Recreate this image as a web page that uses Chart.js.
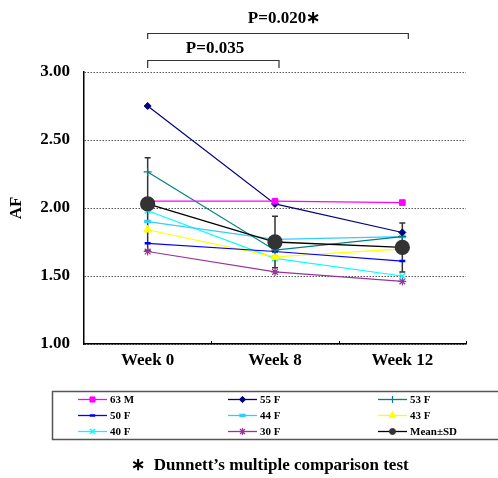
<!DOCTYPE html>
<html>
<head>
<meta charset="utf-8">
<script src="https://cdn.jsdelivr.net/npm/chart.js@4.4.0/dist/chart.umd.min.js"></script>
<style>
    html, body { margin: 0; padding: 0; background: #fff; overflow: hidden; }
    #wrap { width: 498px; height: 478px; }
</style>
</head>
<body>
<div id="wrap"><canvas id="chart"></canvas></div>
<script>
// Data
const weeks = ['Week 0', 'Week 8', 'Week 12'];
const subjects = ['63 M', '55 F', '53 F', '50 F', '44 F', '43 F', '40 F', '30 F'];
const af63M = [2.05, 2.05, 2.04];
const af55F = [2.75, 2.03, 1.82];
const af53F = [2.265, 1.69, 1.79];
const af50F = [1.74, 1.68, 1.61];
const af44F = [1.90, 1.77, 1.79];
const af43F = [1.84, 1.64, 1.70];
const af40F = [1.98, 1.63, 1.50];
const af30F = [1.68, 1.53, 1.46];
const meanVals = [2.03, 1.75, 1.71];
const sdVals = [0.34, 0.19, 0.18];
const yTicks = [1.0, 1.5, 2.0, 2.5, 3.0];
const pLabels = ['P=0.035', 'P=0.020\u2217'];
const footnote = '\u2217  Dunnett\u2019s multiple comparison test';

const SERIF = '"Liberation Serif", "Times New Roman", serif';

// Subject styles
const COLORS = ['#FF00FF', '#000080', '#008080', '#0000FF', '#33CCFF', '#FFFF00', '#00FFFF', '#993399'];
const STYLES = ['rect', 'rectRot', 'cross', 'line', 'line', 'triangle', 'crossRot', 'star'];
const RADII = [4, 3.5, 4, 3, 3.5, 4.5, 4, 4];
const MARKER_W = [1, 1, 1.2, 2.5, 3.5, 1, 1.5, 1.2];

const series = [af63M, af55F, af53F, af50F, af44F, af43F, af40F, af30F];

const datasets = series.map((data, i) => ({
    label: subjects[i],
    data: data,
    borderColor: COLORS[i],
    backgroundColor: COLORS[i],
    borderWidth: 1.2,
    pointStyle: STYLES[i],
    pointRadius: RADII[i],
    pointBorderWidth: MARKER_W[i],
    pointBackgroundColor: COLORS[i],
    pointBorderColor: COLORS[i],
    order: 1
}));

datasets.push({
    label: 'Mean\u00B1SD',
    data: meanVals,
    borderColor: '#000000',
    backgroundColor: '#333333',
    borderWidth: 1.3,
    pointStyle: 'circle',
    pointRadius: 7,
    pointBackgroundColor: '#333333',
    pointBorderColor: '#333333',
    order: 0
});

// Error bars, brackets, x ticks, legend and footnote
const extras = {
    id: 'extras',
    beforeDatasetsDraw(chart) {
        const { ctx, scales: { x, y } } = chart;
        ctx.save();
        ctx.strokeStyle = '#333333';
        ctx.lineWidth = 1.5;
        meanVals.forEach((m, i) => {
            const px = x.getPixelForValue(i);
            const top = y.getPixelForValue(m + sdVals[i]);
            const bot = y.getPixelForValue(m - sdVals[i]);
            ctx.beginPath();
            ctx.moveTo(px, top); ctx.lineTo(px, bot);
            ctx.moveTo(px - 3, top); ctx.lineTo(px + 3, top);
            ctx.moveTo(px - 3, bot); ctx.lineTo(px + 3, bot);
            ctx.stroke();
        });
        ctx.restore();
    },
    afterDraw(chart) {
        const { ctx, chartArea, scales: { x } } = chart;
        ctx.save();

        // small inward ticks on the x axis between categories
        ctx.strokeStyle = '#000';
        ctx.lineWidth = 1;
        const step = x.getPixelForValue(1) - x.getPixelForValue(0);
        for (let i = 0; i < weeks.length; i++) {
            const bx = Math.round(x.getPixelForValue(i) + step / 2) + 0.5;
            ctx.beginPath();
            ctx.moveTo(bx, chartArea.bottom);
            ctx.lineTo(bx, chartArea.bottom - 3);
            ctx.stroke();
        }

        // comparison brackets
        const x0 = x.getPixelForValue(0);
        const x8 = x.getPixelForValue(1) + 4;
        const x12 = x.getPixelForValue(2) + 6;
        ctx.strokeStyle = '#333';
        ctx.lineWidth = 1.2;
        ctx.beginPath();
        ctx.moveTo(x0, 68); ctx.lineTo(x0, 60.5); ctx.lineTo(x8, 60.5); ctx.lineTo(x8, 68);
        ctx.moveTo(x0, 39); ctx.lineTo(x0, 33.5); ctx.lineTo(x12, 33.5); ctx.lineTo(x12, 39);
        ctx.stroke();

        ctx.fillStyle = '#000';
        ctx.font = 'bold 17px ' + SERIF;
        ctx.textAlign = 'center';
        ctx.textBaseline = 'middle';
        ctx.fillText(pLabels[0], 215, 49);
        ctx.fillText(pLabels[1], 284, 19);

        // legend box, open on the right (runs off the picture)
        ctx.strokeStyle = '#555';
        ctx.lineWidth = 1.5;
        ctx.beginPath();
        ctx.moveTo(chart.width + 5, 391.5);
        ctx.lineTo(52.5, 391.5);
        ctx.lineTo(52.5, 439.5);
        ctx.lineTo(chart.width + 5, 439.5);
        ctx.stroke();

        ctx.font = 'bold 11px ' + SERIF;
        ctx.textAlign = 'left';
        chart.data.datasets.forEach((ds, i) => {
            const col = i % 3, row = Math.floor(i / 3);
            const lx = 78 + 150 * col;
            const ly = 399.5 + 16 * row;
            ctx.strokeStyle = ds.borderColor;
            ctx.lineWidth = 1.3;
            ctx.beginPath();
            ctx.moveTo(lx, ly); ctx.lineTo(lx + 29, ly);
            ctx.stroke();
            ctx.fillStyle = ds.pointBackgroundColor;
            ctx.strokeStyle = ds.pointBorderColor;
            ctx.lineWidth = ds.pointBorderWidth || 1;
            const r = ds.pointStyle === 'circle' ? 3 : ds.pointRadius * 0.9;
            if (Chart.helpers && Chart.helpers.drawPoint) {
                Chart.helpers.drawPoint(ctx, { pointStyle: ds.pointStyle, radius: r, borderWidth: ctx.lineWidth, rotation: 0 }, lx + 14.5, ly);
            }
            ctx.fillStyle = '#000';
            ctx.fillText(ds.label, lx + 32, ly + 0.5);
        });

        // footnote
        ctx.font = 'bold 17px ' + SERIF;
        ctx.textAlign = 'center';
        ctx.fillText(footnote, 270, 466);

        ctx.restore();
    }
};

new Chart(document.getElementById('chart'), {
    type: 'line',
    data: { labels: weeks, datasets: datasets },
    options: {
        responsive: true,
        maintainAspectRatio: false,
        animation: false,
        layout: { padding: { top: 72, right: 32, bottom: 100, left: 0 } },
        plugins: {
            legend: { display: false },
            tooltip: { enabled: false }
        },
        scales: {
            x: {
                offset: true,
                afterFit: s => { s.height = 34; },
                grid: { display: false },
                border: { display: true, color: '#000', width: 1.5 },
                ticks: {
                    color: '#000',
                    padding: -2,
                    font: { family: SERIF, size: 17, weight: 'bold' }
                }
            },
            y: {
                min: 1,
                max: 3,
                afterFit: s => { s.width = 84; },
                afterBuildTicks: s => { s.ticks = yTicks.map(v => ({ value: v })); },
                grid: {
                    color: '#555',
                    lineWidth: 1,
                    drawTicks: false
                },
                // dash here applies to the grid lines (dotted), not the axis line
                border: { display: true, color: '#000', width: 1.5, dash: [1.5, 1.5] },
                ticks: {
                    color: '#000',
                    padding: 14,
                    font: { family: SERIF, size: 17, weight: 'bold' },
                    callback: v => Number(v).toFixed(2)
                },
                title: {
                    display: true,
                    text: 'AF',
                    color: '#000',
                    padding: { top: 6, bottom: 0 },
                    font: { family: SERIF, size: 17, weight: 'bold' }
                }
            }
        }
    },
    plugins: [extras]
});
</script>
</body>
</html>
